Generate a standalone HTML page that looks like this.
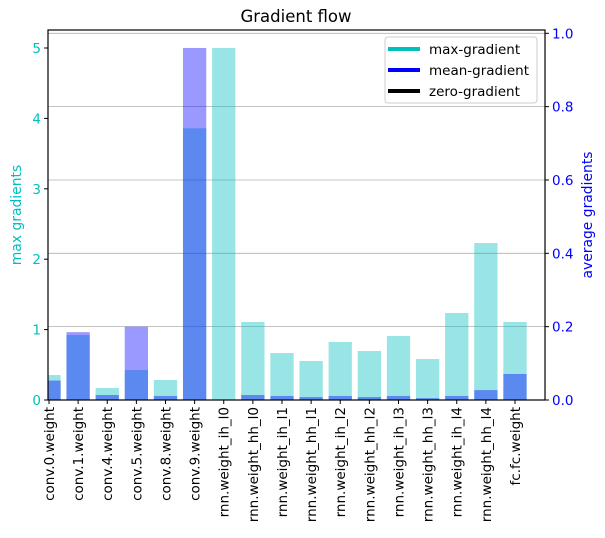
<!DOCTYPE html>
<html><head><meta charset="utf-8"><style>body{margin:0;background:#fff}svg{display:block;font-family:"DejaVu Sans","Liberation Sans",sans-serif}</style></head>
<body>
<svg id="chart" width="605" height="538" xmlns="http://www.w3.org/2000/svg"></svg>
<script>
const categories=["conv.0.weight","conv.1.weight","conv.4.weight","conv.5.weight","conv.8.weight","conv.9.weight","rnn.weight_ih_l0","rnn.weight_hh_l0","rnn.weight_ih_l1","rnn.weight_hh_l1","rnn.weight_ih_l2","rnn.weight_hh_l2","rnn.weight_ih_l3","rnn.weight_hh_l3","rnn.weight_ih_l4","rnn.weight_hh_l4","fc.fc.weight"];
const maxGrad=[0.355,0.923,0.17,0.426,0.284,3.86,5.0,1.108,0.667,0.554,0.824,0.696,0.909,0.582,1.236,2.23,1.108];
const meanGrad=[0.053,0.185,0.0136,0.2,0.011,0.96,0,0.0136,0.011,0.008,0.011,0.008,0.011,0.005,0.011,0.027,0.071];
const leftTicks=[0,1,2,3,4,5];
const rightTicks=[0.0,0.2,0.4,0.6,0.8,1.0];

const svg=document.getElementById('chart');
const NS="http://www.w3.org/2000/svg";
const L=48,R=545,T=30,B=400;
const xlo=-0.034,xhi=17.03;
const xs=i=>L+(i-xlo)/(xhi-xlo)*(R-L);
const yL=v=>B-v*70.4;
const yR=v=>B-v*366.7;
function mk(tag,attrs,parent){const e=document.createElementNS(NS,tag);for(const k in attrs)e.setAttribute(k,attrs[k]);(parent||svg).appendChild(e);return e;}
const defs=mk('defs',{});const cp=mk('clipPath',{id:'ax'},defs);mk('rect',{x:L,y:T,width:R-L,height:B-T},cp);
rightTicks.forEach(t=>{const g=mk('line',{x1:L,x2:R,y1:yR(t),y2:yR(t),stroke:'#b0b0b0','stroke-width':0.8});

});
const bw=(R-L)/(xhi-xlo)*0.8;
const gb=mk('g',{'clip-path':'url(#ax)'});
maxGrad.forEach((v,i)=>{const r=mk('rect',{x:xs(i)-bw/2,y:yL(v),width:bw,height:B-yL(v),fill:'#00bfbf','fill-opacity':0.4},gb);

});
meanGrad.forEach((v,i)=>{const r=mk('rect',{x:xs(i)-bw/2,y:yR(v),width:bw,height:B-yR(v),fill:'#0000ff','fill-opacity':0.4},gb);

});
mk('rect',{x:L,y:T,width:R-L,height:B-T,fill:'none',stroke:'#000','stroke-width':1.2});
leftTicks.forEach(t=>{const y=yL(t);mk('line',{x1:L-4,x2:L,y1:y,y2:y,stroke:'#000'});
const tx=mk('text',{x:L-7,y:y+5,'text-anchor':'end','font-size':13.5,fill:'#00bfbf'});tx.textContent=t;

});
rightTicks.forEach(t=>{const y=yR(t);mk('line',{x1:R,x2:R+4,y1:y,y2:y,stroke:'#000'});
const tx=mk('text',{x:R+7,y:y+5,'font-size':13.5,fill:'#0000ff'});tx.textContent=t.toFixed(1);

});
categories.forEach((c,i)=>{const x=xs(i);mk('line',{x1:x,x2:x,y1:B,y2:B+4,stroke:'#000'});
const tx=mk('text',{x:0,y:0,'text-anchor':'end','font-size':13.5,fill:'#000',transform:`translate(${x+5},${B+7}) rotate(-90)`});tx.textContent=c;

});
</script>
<svg width="605" height="538" style="position:absolute;left:0;top:0" xmlns="http://www.w3.org/2000/svg" font-family="DejaVu Sans, Liberation Sans, sans-serif">
<text x="296" y="22" text-anchor="middle" font-size="16.5">Gradient flow</text>
<text transform="translate(21,215) rotate(-90)" text-anchor="middle" font-size="13.9" fill="#00bfbf">max gradients</text>
<text transform="translate(592,215) rotate(-90)" text-anchor="middle" font-size="13.9" fill="#0000ff">average gradients</text>
<g>
<rect x="385" y="37" width="152" height="66" rx="3" fill="#fff" fill-opacity="0.8" stroke="#ccc"/>
<line x1="388" x2="420" y1="49" y2="49" stroke="#00bfbf" stroke-width="4"/>
<text x="429" y="54" font-size="13.5">max-gradient</text>
<line x1="388" x2="420" y1="70" y2="70" stroke="#0000ff" stroke-width="4"/>
<text x="429" y="75" font-size="13.5">mean-gradient</text>
<line x1="388" x2="420" y1="91" y2="91" stroke="#000" stroke-width="4"/>
<text x="429" y="96" font-size="13.5">zero-gradient</text>
</g>
</svg>
</body></html>
